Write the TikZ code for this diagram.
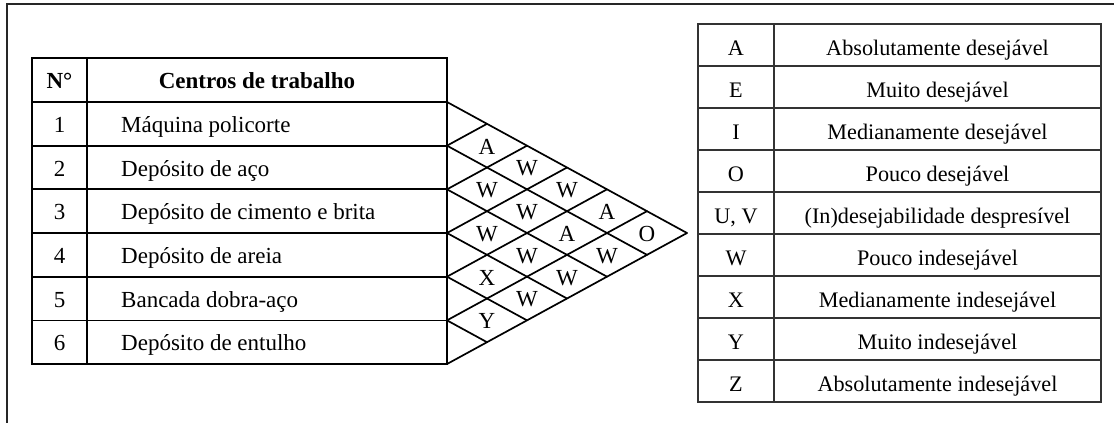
\documentclass[tikz,border=0pt]{standalone}
\usepackage{fontspec}
\setmainfont{Liberation Serif}
\usetikzlibrary{calc}

\begin{document}
\begin{tikzpicture}[x=1pt,y=-1pt,
 frm/.style={line width=1.8pt,draw=black!85},
 tbl/.style={line width=1.7pt,draw=black,line cap=round},
 leg/.style={line width=1.2pt,draw=black!80},
 hd/.style={font=\fontsize{23}{28}\selectfont\bfseries},
 lg/.style={font=\fontsize{22.2}{27}\selectfont},
 every node/.style={font=\fontsize{23}{28}\selectfont,inner sep=0pt}]
\useasboundingbox (0,0) rectangle (1114,423);
\draw[frm] (1114,4)--(7,4)--(7,423);
% centros de trabalho
\begin{scope}
 \draw[tbl] (32,58) rectangle (447,364);
 \draw[tbl] (87,58)--(87,364);
 \foreach \k in {0,...,5} \draw[tbl] (32,{102+\k*43.67})--(447,{102+\k*43.67});
 \node[hd,anchor=base] (hN) at (59.5,88.5) {N°};
 \node[hd,anchor=base] (hC) at (257,88.5) {Centros de trabalho};
 \foreach \t [count=\n] in {Máquina policorte,Depósito de aço,Depósito de cimento e brita,Depósito de areia,Bancada dobra-aço,Depósito de entulho}{
  \node[anchor=base] (n\n) at (59.5,{102+(\n-.5)*43.67+8.5}) {\n};
  \node[anchor=base west] (c\n) at (121,{102+(\n-.5)*43.67+8.5}) {\t};
 }
\end{scope}
% diagrama de relacionamentos
\begin{scope}
 \foreach \k in {0,...,6}{
  \coordinate (L\k) at (447,{102+\k*43.67});
  \draw[tbl] (L\k)--({447+40*\k},{102+\k*43.67/2});
  \draw[tbl] (L\k)--({447+40*(6-\k)},{102+(6+\k)*43.67/2});
 }
 \foreach \i/\j/\c in {1/2/A,1/3/W,1/4/W,1/5/A,1/6/O,2/3/W,2/4/W,2/5/A,2/6/W,3/4/W,3/5/W,3/6/W,4/5/X,4/6/W,5/6/Y}
  \node (r\i\j) at ({447+40*(\j-\i)},{102+43.67*(\i+\j-1)/2+1}) {\c};
\end{scope}
% legenda
\begin{scope}
 \draw[leg] (698,24) rectangle (1101,402);
 \draw[leg] (774,24)--(774,402);
 \foreach \k in {1,...,8} \draw[leg] (698,{24+\k*42})--(1101,{24+\k*42});
 \foreach \l/\d [count=\n] in {A/Absolutamente desejável,E/Muito desejável,I/Medianamente desejável,O/Pouco desejável,{U, V}/{(In)desejabilidade despresível},W/Pouco indesejável,X/Medianamente indesejável,Y/Muito indesejável,Z/Absolutamente indesejável}{
  \node[lg,anchor=base] (ll\n) at (736,{24+(\n-.5)*42+10.5}) {\l};
  \node[lg,anchor=base] (ld\n) at (937.5,{24+(\n-.5)*42+10.5}) {\d};
 }
\end{scope}
\end{tikzpicture}
\end{document}
